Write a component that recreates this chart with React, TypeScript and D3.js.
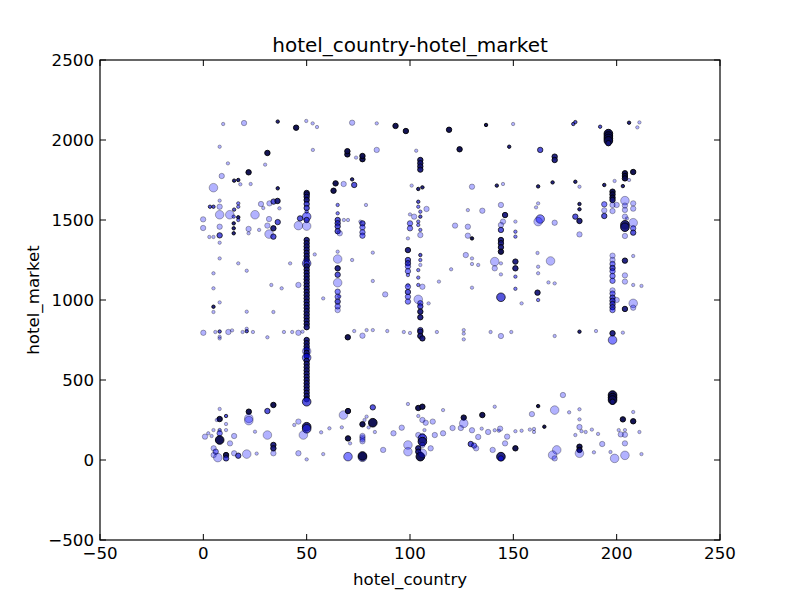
import React from "react";
import * as d3 from "d3";

// Each record: [hotel_country, hotel_market, sizeClass (1 small,2 medium,3 large), overlap level (1..5)]
type Rec = [number, number, number, number];

const xTicks = [-50, 0, 50, 100, 150, 200, 250];
const yTicks = [-500, 0, 500, 1000, 1500, 2000, 2500];

const column50: Rec[] = [
  [50, 1669, 2, 4], [50, 1660, 2, 4], [50, 1645, 2, 4], [50, 1625, 2, 4],
  [50, 1600, 2, 3], [50, 1575, 2, 3], [50, 1552, 1, 2], [50, 1521, 3, 2],
  [46.8, 1510, 2, 3], [50, 1500, 2, 3], [46, 1465, 3, 1], [50, 1462, 3, 1],
  [50, 1375, 2, 4], [50, 1355, 2, 4], [50, 1335, 2, 4], [50, 1315, 2, 4],
  [50, 1295, 2, 4], [50, 1275, 2, 4], [50, 1255, 2, 4], [50, 1229, 3, 2],
  [50, 1229, 2, 3], [50, 1210, 2, 4], [50, 1190, 2, 4], [50, 1170, 2, 4],
  [50, 1150, 2, 4], [50, 1130, 2, 4], [50, 1110, 2, 4], [50, 1090, 2, 4],
  [50, 1070, 2, 4], [50, 1050, 2, 4], [50, 1030, 2, 4], [50, 1010, 2, 4],
  [50, 990, 2, 4], [50, 970, 2, 4], [50, 950, 2, 4], [50, 930, 2, 4],
  [50, 910, 2, 4], [50, 890, 2, 4], [50, 870, 2, 4], [50, 850, 2, 4],
  [50, 830, 2, 4], [50, 750, 2, 4], [50, 730, 2, 4], [50, 710, 2, 4],
  [50, 690, 2, 4], [50, 680, 3, 1], [50, 670, 2, 4], [50, 650, 2, 4],
  [50, 640, 3, 2], [50, 620, 2, 4], [50, 600, 2, 4], [50, 580, 2, 4],
  [50, 560, 2, 4], [50, 540, 2, 4], [50, 520, 2, 4], [50, 500, 2, 4],
  [50, 480, 2, 4], [50, 460, 2, 4], [50, 440, 2, 4], [50, 420, 2, 4],
  [50, 400, 2, 4], [50, 380, 2, 4], [50, 364, 3, 3],
];

const leftUpper: Rec[] = [
  [9.6, 2100, 1, 1], [19.7, 2106, 2, 1], [36, 2115, 1, 4], [44.9, 2077, 2, 5],
  [49.8, 2119, 1, 1], [52.9, 2104, 1, 1], [55, 2081, 1, 1], [72, 2108, 2, 1],
  [7.9, 1958, 1, 1], [31, 1919, 2, 5], [53, 1938, 1, 1], [69.7, 1910, 2, 5],
  [69.7, 1930, 2, 5], [73.9, 1890, 1, 1], [77, 1880, 2, 5], [77, 1900, 2, 5],
  [11.9, 1854, 1, 1], [29.9, 1846, 1, 1], [21.9, 1798, 2, 5], [8.9, 1775, 2, 1],
  [4.9, 1702, 3, 1], [14.9, 1746, 1, 4], [16.9, 1750, 1, 4], [17.9, 1723, 1, 1],
  [22.9, 1725, 1, 1], [36, 1698, 1, 4], [64, 1729, 2, 5], [63, 1683, 2, 5],
  [67.9, 1725, 2, 1], [72, 1754, 1, 4], [73, 1719, 2, 3],
  [3.2, 1583, 1, 3], [4.9, 1583, 1, 3], [7.9, 1583, 2, 1], [14.9, 1565, 1, 3],
  [16.9, 1604, 1, 2], [16.9, 1583, 1, 2], [7.9, 1621, 1, 1], [27.9, 1600, 2, 1],
  [29, 1575, 1, 1], [32, 1604, 2, 1], [34, 1615, 2, 3], [35.9, 1619, 2, 4],
  [36.8, 1573, 1, 1], [-0.1, 1504, 2, 1], [-0.1, 1450, 2, 1], [7.9, 1533, 3, 1],
  [12.8, 1533, 3, 1], [14.7, 1521, 1, 2], [16.9, 1517, 1, 4], [16.9, 1500, 1, 2],
  [14.7, 1479, 1, 4], [14.7, 1448, 1, 4], [14.7, 1417, 1, 4], [25, 1533, 3, 1],
  [31.8, 1506, 2, 1], [36, 1487, 2, 3], [33.9, 1448, 2, 4], [31, 1465, 2, 1],
  [21.9, 1444, 2, 1], [21.9, 1417, 1, 1], [27, 1438, 1, 1], [7.9, 1458, 2, 1],
  [2.9, 1394, 1, 1], [4.9, 1394, 1, 1], [7.9, 1404, 2, 3], [31.8, 1412, 3, 1],
  [33.9, 1396, 2, 3], [7.9, 1358, 1, 1], [53.9, 1285, 1, 1], [42, 1229, 1, 1],
  [46, 1094, 2, 1], [37.9, 1073, 1, 1], [32.9, 1094, 1, 1], [7.9, 1260, 1, 1],
  [16.9, 1229, 1, 1], [21, 1183, 1, 1], [4.9, 1167, 1, 1], [4.9, 1073, 1, 1],
  [4.9, 958, 1, 4], [4.9, 925, 1, 1], [7.9, 985, 1, 1], [21, 927, 1, 1],
  [33.9, 925, 1, 1], [72, 1250, 1, 1], [68, 1500, 1, 1], [70, 1500, 1, 1],
  [78.7, 1594, 1, 1], [77, 1479, 2, 3], [77, 1454, 2, 2], [77, 1423, 2, 2],
  [77, 1402, 2, 2], [76, 1490, 1, 1],
  [65, 1594, 1, 2], [65, 1542, 1, 2], [65, 1500, 2, 3], [65, 1480, 2, 3],
  [65, 1460, 2, 3], [65, 1430, 2, 3], [66, 1417, 2, 1], [65, 1302, 1, 1],
  [65, 1256, 3, 1], [65, 1198, 2, 4], [65, 1158, 2, 3], [65, 1108, 3, 1],
  [65, 1052, 2, 2], [65, 1020, 2, 2], [65, 990, 2, 3], [65, 960, 2, 2],
  [65, 937, 2, 1], [58, 1010, 1, 1], [65.8, 1023, 1, 1],
];

const middleUpper: Rec[] = [
  [83.9, 2104, 1, 1], [93, 2088, 2, 5], [98, 2056, 2, 5], [118.9, 2064, 2, 5],
  [136.8, 2094, 1, 5], [149.9, 2100, 1, 1], [83.9, 1938, 2, 1], [103, 1933, 1, 1],
  [124, 1942, 2, 5], [148, 1958, 1, 4],
  [105, 1875, 2, 4], [105, 1855, 2, 4], [105, 1835, 2, 4], [105, 1815, 2, 4],
  [100.8, 1715, 1, 1], [104, 1694, 1, 4], [106, 1704, 1, 4],
  [104, 1614, 1, 3], [104, 1583, 1, 2], [105, 1552, 1, 2], [105, 1521, 1, 3],
  [104, 1490, 1, 2], [104, 1469, 1, 2], [105, 1438, 1, 2], [105, 1406, 2, 1],
  [108, 1569, 2, 1], [105, 1281, 1, 3], [105, 1250, 1, 2], [105, 1219, 1, 1],
  [104, 1187, 1, 2], [104, 1140, 1, 2], [104, 1094, 1, 2], [106, 1083, 2, 1],
  [104, 1004, 3, 1], [105, 980, 2, 2], [105, 960, 2, 3], [105, 927, 2, 4],
  [105, 892, 2, 4], [109, 979, 1, 1],
  [100, 1535, 1, 1], [102, 1521, 2, 1], [100, 1479, 2, 2], [100, 1448, 2, 2],
  [99, 1385, 1, 1], [99, 1312, 2, 4], [99, 1250, 2, 3], [99, 1230, 2, 3],
  [99, 1210, 2, 2], [99, 1180, 2, 2], [99, 1156, 1, 2], [99, 1094, 1, 1],
  [99, 1083, 2, 2], [99, 1050, 2, 3], [99, 1020, 2, 2], [99, 990, 2, 2],
  [82, 1296, 1, 1], [82, 1119, 1, 1], [88, 1035, 2, 1], [114, 1115, 1, 1],
  [119.9, 1192, 1, 1], [121.8, 1465, 2, 1], [128, 1562, 1, 1], [128, 1458, 2, 1],
  [128, 1402, 2, 1], [130, 1385, 1, 5], [130, 1708, 2, 1], [127, 1281, 2, 1],
  [130, 1260, 1, 1], [130, 1225, 1, 1], [133, 1219, 1, 1], [130, 1077, 1, 1],
  [135, 1558, 2, 1],
  [142, 1715, 1, 4], [145, 1725, 1, 1], [144, 1594, 2, 1], [146, 1531, 2, 4],
  [145, 1490, 2, 1], [144, 1469, 2, 1], [144, 1438, 2, 3], [144, 1375, 2, 4],
  [144, 1355, 2, 4], [144, 1330, 2, 4], [144, 1302, 2, 5], [141, 1240, 3, 1],
  [141, 1198, 2, 1], [144, 1229, 1, 1], [144, 1160, 1, 1], [144, 1017, 3, 3],
  [151, 1490, 1, 1], [151, 1427, 1, 2], [151, 1396, 1, 2], [151, 1240, 2, 4],
  [151, 1198, 2, 4], [151, 1146, 1, 2], [151, 1070, 1, 2], [154, 979, 1, 1],
];

const rightUpper: Rec[] = [
  [179, 2100, 1, 3], [180, 2112, 1, 3], [192, 2083, 1, 3], [206, 2108, 1, 4],
  [211, 2110, 1, 1], [210, 2079, 1, 1], [163, 1938, 2, 3], [170, 1896, 2, 4],
  [170, 1875, 2, 4], [169, 1735, 1, 4], [180, 1739, 1, 4], [182, 1708, 1, 1],
  [196, 2040, 3, 5], [196, 2025, 3, 5], [196, 2010, 3, 5], [196, 1995, 3, 5],
  [196, 1980, 2, 4], [198, 1677, 2, 5], [198, 1660, 2, 5], [198, 1640, 2, 5],
  [198, 1625, 2, 4], [194, 1719, 1, 4], [199, 1744, 1, 1], [204, 1792, 2, 5],
  [204, 1775, 2, 5], [204, 1760, 2, 5], [208, 1800, 2, 5], [206, 1750, 1, 1],
  [203, 1712, 1, 4], [162, 1710, 1, 4], [162, 1604, 1, 1], [161, 1579, 1, 1],
  [163, 1506, 3, 2], [162, 1490, 3, 1], [161.7, 1294, 1, 1], [162, 1208, 1, 1],
  [162, 1167, 1, 1], [167, 1110, 1, 1], [170, 1104, 1, 1], [168, 1244, 3, 1],
  [161.7, 1046, 2, 4], [162, 1000, 1, 2],
  [182, 1600, 1, 4], [182, 1567, 1, 4], [194, 1598, 2, 2], [194, 1560, 2, 1],
  [194, 1525, 2, 3], [198, 1594, 2, 1], [198, 1556, 2, 1], [200, 1594, 2, 1],
  [204, 1621, 3, 1], [204, 1590, 2, 1], [204, 1563, 2, 1], [204, 1521, 2, 1],
  [204, 1470, 3, 4], [204, 1455, 3, 4], [208, 1604, 2, 1], [208, 1571, 2, 1],
  [208, 1483, 3, 1], [208, 1448, 2, 2], [208, 1421, 2, 3], [205, 1510, 1, 1],
  [204, 1400, 2, 1], [170, 1483, 2, 1], [180, 1521, 2, 3], [182, 1494, 2, 4],
  [182, 1410, 2, 1],
  [198, 1277, 2, 1], [198, 1250, 2, 1], [198, 1225, 2, 2], [198, 1200, 2, 3],
  [198, 1180, 2, 2], [198, 1150, 2, 2], [198, 1120, 2, 2], [198, 1060, 2, 1],
  [198, 1040, 2, 2], [198, 1015, 2, 3], [198, 995, 2, 3], [198, 975, 2, 3],
  [198, 955, 2, 3], [198, 937, 2, 2], [200, 1000, 2, 1], [204, 1246, 2, 4],
  [204, 1154, 2, 1], [204, 1115, 2, 1], [208, 1275, 1, 1], [208, 1094, 1, 1],
  [212, 1088, 1, 1], [204, 944, 2, 4], [208, 979, 3, 1], [208, 952, 2, 1],
];

const middleRow: Rec[] = [
  [0, 795, 2, 1], [5.8, 800, 1, 1], [7.9, 803, 1, 3], [12.1, 800, 2, 1],
  [13.9, 810, 1, 1], [19, 800, 1, 1], [21, 805, 1, 3], [21, 820, 1, 1],
  [24, 800, 1, 1], [7.9, 770, 1, 1], [7.9, 760, 1, 1], [31, 767, 1, 1],
  [39, 800, 1, 1], [43, 800, 1, 1], [46, 795, 2, 1], [48, 802, 1, 1],
  [69.9, 767, 2, 5], [73, 806, 1, 1], [77, 777, 2, 1], [79, 812, 1, 1],
  [82, 812, 1, 1], [89, 806, 1, 1], [97, 800, 1, 1], [100, 794, 1, 1],
  [105, 812, 2, 3], [105, 802, 2, 4], [105, 775, 2, 4], [106, 760, 2, 4],
  [113, 800, 1, 1], [126, 812, 1, 1], [126, 790, 1, 1], [126, 754, 1, 1],
  [139, 800, 1, 1], [144, 775, 2, 1], [149, 800, 1, 1], [170, 775, 1, 1],
  [182, 802, 1, 4], [190, 806, 1, 1], [198, 792, 2, 4], [198, 750, 3, 2],
  [203, 796, 1, 1],
];

const bottomBand: Rec[] = [
  [33.9, 344, 2, 5], [31, 306, 2, 3], [22, 302, 2, 5], [22, 260, 3, 1],
  [22, 246, 3, 1], [7.9, 319, 1, 1], [7.9, 256, 2, 5], [11, 275, 1, 3],
  [6.5, 250, 1, 1], [4.9, 187, 1, 1], [2.4, 167, 1, 1], [0.8, 146, 2, 1],
  [4, 150, 1, 1], [7.9, 187, 1, 2], [7.9, 167, 2, 2], [7.9, 125, 3, 5],
  [11, 225, 1, 1], [11, 187, 1, 1], [14.9, 150, 2, 1], [12.9, 104, 2, 1],
  [25, 177, 1, 1], [31, 156, 3, 1], [33.9, 94, 2, 4], [33.9, 73, 2, 4],
  [33.9, 42, 2, 1], [5, 73, 2, 1], [6, 52, 2, 2], [5, 31, 2, 1],
  [7, 15, 3, 1], [11, 31, 2, 5], [11, 10, 2, 3], [14.9, 42, 2, 1],
  [16.9, 27, 2, 3], [21, 37, 3, 1], [25.8, 40, 1, 1], [46, 42, 2, 1],
  [50, 4, 1, 1], [58, 37, 1, 1], [46, 240, 2, 1], [44, 219, 1, 1],
  [50, 208, 3, 4], [50, 195, 3, 3], [48.4, 156, 3, 1], [57, 173, 1, 1],
  [61, 198, 1, 1], [67.8, 281, 3, 1], [70, 306, 2, 5], [70, 135, 2, 5],
  [67, 204, 1, 1], [77, 223, 2, 5], [78, 250, 1, 1], [77, 140, 2, 1],
  [77, 117, 2, 1], [71, 104, 1, 1], [70, 21, 3, 2], [77, 17, 3, 2],
  [99, 350, 1, 1], [104, 325, 2, 5], [106, 333, 2, 5], [116, 312, 1, 1],
  [82, 329, 2, 3], [79, 271, 1, 1], [82, 233, 3, 5], [80, 204, 1, 1],
  [83, 175, 1, 1], [77, 150, 2, 1], [77, 129, 2, 1], [92, 167, 2, 1],
  [96, 202, 2, 1], [104, 275, 1, 1], [106, 250, 2, 1], [107.6, 233, 2, 1],
  [111, 240, 2, 1], [104, 156, 2, 1], [106, 150, 2, 1], [106, 135, 3, 3],
  [106, 115, 3, 4], [106, 94, 2, 1], [107, 187, 1, 1], [99, 94, 3, 1],
  [99, 52, 3, 1], [104, 73, 2, 4], [104, 52, 2, 4], [105, 21, 3, 5],
  [106, 42, 3, 1], [110, 73, 2, 1], [77, 25, 3, 5], [87, 63, 2, 1],
  [112, 156, 2, 1], [116, 167, 2, 1], [120.6, 200, 2, 1], [124.6, 200, 2, 1],
  [130, 186, 2, 1], [133, 144, 2, 1], [134.7, 196, 1, 1], [137.8, 175, 2, 1],
  [141, 186, 1, 1], [143.6, 196, 2, 1], [126, 265, 2, 5], [126, 229, 3, 1],
  [135, 281, 2, 5], [129.4, 100, 2, 3], [131, 90, 2, 2], [132, 73, 2, 1],
  [140, 63, 2, 1], [143, 183, 1, 1], [147, 146, 2, 1], [146, 104, 2, 1],
  [144, 21, 3, 4], [144, 10, 2, 2], [151, 73, 2, 5], [151, 180, 1, 1],
  [154, 183, 1, 1], [158, 190, 1, 1], [160, 175, 1, 1], [159, 287, 2, 1],
  [162, 337, 1, 5], [141, 333, 1, 1],
  [198, 406, 3, 5], [198, 390, 3, 5], [198, 375, 3, 5], [198, 364, 2, 4],
  [174, 406, 2, 1], [170, 312, 3, 1], [177, 298, 1, 1], [182, 317, 1, 1],
  [182, 254, 1, 1], [165, 208, 1, 5], [160, 194, 1, 1], [183, 180, 1, 1],
  [185, 175, 1, 1], [180, 156, 1, 1], [182, 206, 2, 1], [188, 190, 1, 1],
  [191, 163, 1, 1], [203, 254, 2, 5], [208, 242, 2, 5], [208, 300, 1, 1],
  [201, 187, 1, 1], [202, 160, 2, 1], [204, 187, 1, 1], [204, 158, 2, 1],
  [211, 175, 1, 1], [193, 100, 2, 1], [204, 104, 2, 1], [197, 50, 1, 1],
  [171, 63, 3, 1], [169, 31, 3, 1], [170, 10, 2, 1], [182, 83, 2, 5],
  [182, 63, 2, 5], [182, 42, 3, 1], [189, 48, 1, 1], [199, 10, 3, 1],
  [204, 29, 3, 1], [212, 37, 1, 1],
];

const allRecords: Rec[] = [
  ...leftUpper, ...column50, ...middleUpper, ...rightUpper, ...middleRow, ...bottomBand,
];

const W = 800;
const H = 600;
const M = { left: 100, right: 720, top: 60, bottom: 540 };
const FONT = "'DejaVu Sans', sans-serif";

export default function App() {
  const x = d3.scaleLinear().domain([-50, 250]).range([M.left, M.right]);
  const y = d3.scaleLinear().domain([-500, 2500]).range([M.bottom, M.top]);
  const r = d3.scaleOrdinal<number, number>().domain([1, 2, 3]).range([1.7, 2.7, 4.3]);
  // overlap level -> look of coincident semi-transparent markers
  const fillColor = d3
    .scaleOrdinal<number, string>()
    .domain([1, 2, 3, 4, 5])
    .range(["#0000ff", "#0000ff", "#1c1cd0", "#12127a", "#0a0a4e"]);
  const fillAlpha = d3.scaleOrdinal<number, number>().domain([1, 2, 3, 4, 5]).range([0.3, 0.5, 0.75, 0.92, 0.96]);
  const strokeAlpha = d3.scaleOrdinal<number, number>().domain([1, 2, 3, 4, 5]).range([0.3, 0.5, 0.7, 0.85, 0.9]);
  const fmt = (v: number) => d3.format("d")(v);
  const tickLen = 6;

  return (
    <svg
      width={W}
      height={H}
      style={{ position: "absolute", left: 0, top: 0, background: "#fff" }}
      fontFamily={FONT}
    >
      <rect x={0} y={0} width={W} height={H} fill="#fff" />
      <defs>
        <clipPath id="plotclip">
          <rect x={M.left} y={M.top} width={M.right - M.left} height={M.bottom - M.top} />
        </clipPath>
      </defs>
      <g clipPath="url(#plotclip)">
        {allRecords.map((d, i) => (
          <circle
            key={i}
            cx={x(d[0])}
            cy={y(d[1])}
            r={r(d[2])}
            fill={fillColor(d[3])}
            fillOpacity={fillAlpha(d[3])}
            stroke="#000"
            strokeOpacity={strokeAlpha(d[3])}
            strokeWidth={1}
          />
        ))}
      </g>
      {xTicks.map((t) => (
        <g key={`xt${t}`}>
          <line x1={x(t)} x2={x(t)} y1={M.bottom} y2={M.bottom - tickLen} stroke="#000" strokeWidth={1} />
          <line x1={x(t)} x2={x(t)} y1={M.top} y2={M.top + tickLen} stroke="#000" strokeWidth={1} />
          <text x={x(t)} y={M.bottom + 19} fontSize={16.67} textAnchor="middle" fill="#000">
            {fmt(t)}
          </text>
        </g>
      ))}
      {yTicks.map((t) => (
        <g key={`yt${t}`}>
          <line x1={M.left} x2={M.left + tickLen} y1={y(t)} y2={y(t)} stroke="#000" strokeWidth={1} />
          <line x1={M.right} x2={M.right - tickLen} y1={y(t)} y2={y(t)} stroke="#000" strokeWidth={1} />
          <text x={M.left - 6} y={y(t) + 6} fontSize={16.67} textAnchor="end" fill="#000">
            {fmt(t)}
          </text>
        </g>
      ))}
      <rect
        x={M.left}
        y={M.top}
        width={M.right - M.left}
        height={M.bottom - M.top}
        fill="none"
        stroke="#000"
        strokeWidth={1.2}
      />
      <text x={(M.left + M.right) / 2} y={52} fontSize={20} textAnchor="middle" fill="#000">
        hotel_country-hotel_market
      </text>
      <text x={(M.left + M.right) / 2} y={585} fontSize={16.67} textAnchor="middle" fill="#000">
        hotel_country
      </text>
      <text
        transform={`translate(39, ${(M.top + M.bottom) / 2}) rotate(-90)`}
        fontSize={16.67}
        textAnchor="middle"
        fill="#000"
      >
        hotel_market
      </text>
    </svg>
  );
}
